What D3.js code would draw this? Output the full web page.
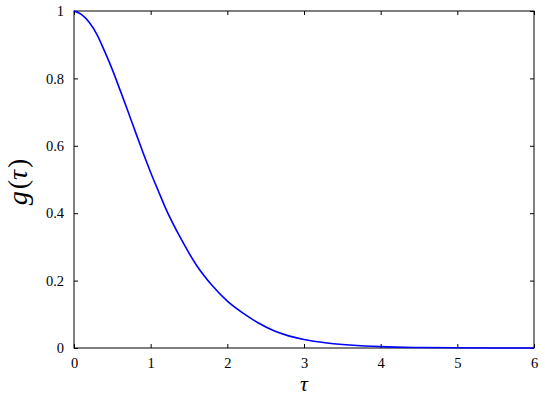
<!DOCTYPE html>
<html>
<head>
<meta charset="utf-8">
<script src="https://cdn.jsdelivr.net/npm/d3@7"></script>
<style>
  html, body { margin: 0; padding: 0; background: #ffffff; }
  svg { display: block; }
</style>
</head>
<body>
<div id="chart"></div>
<script>
// values
const tau_values = [0, 0.1, 0.2, 0.3, 0.4, 0.5, 0.6, 0.7, 0.8, 0.9, 1.0, 1.1, 1.2, 1.4, 1.6, 1.8, 2.0,
                    2.2, 2.4, 2.6, 2.8, 3.0, 3.3, 3.6, 4.0, 4.5, 5.0, 5.5, 6.0];
const g_values = [1.0, 0.989, 0.966, 0.93, 0.88, 0.826, 0.766, 0.705, 0.642, 0.58, 0.521, 0.466,
                  0.412, 0.322, 0.245, 0.186, 0.139, 0.104, 0.075, 0.052, 0.036, 0.025, 0.015,
                  0.009, 0.004, 0.0015, 0.0006, 0.0002, 0.0001];
const x_ticks = [0, 1, 2, 3, 4, 5, 6];
const y_ticks = [0, 0.2, 0.4, 0.6, 0.8, 1];

const serif = "'Times New Roman', 'Liberation Serif', serif";

const margin = {top: 11, right: 11, bottom: 61, left: 74},
      width = 545 - margin.left - margin.right,
      height = 409 - margin.top - margin.bottom;

const svg = d3.select("#chart")
  .append("svg")
    .attr("width", 545)
    .attr("height", 409);

const inner = svg.append("g")
  .attr("transform", "translate(" + margin.left + "," + margin.top + ")");

const x = d3.scaleLinear().domain([0, 6]).range([0, width]);
const y = d3.scaleLinear().domain([0, 1]).range([height, 0]);

// frame
inner.append("rect")
  .attr("x", 0).attr("y", 0)
  .attr("width", width).attr("height", height)
  .attr("fill", "none")
  .attr("stroke", "#000")
  .attr("stroke-width", 1);

// bottom / left axes with inward ticks
const X_AXIS = inner.append("g")
  .attr("transform", "translate(0," + height + ")")
  .call(d3.axisBottom(x).tickValues(x_ticks).tickFormat(d3.format("d"))
        .tickSizeInner(-4).tickSizeOuter(0).tickPadding(10));

const Y_AXIS = inner.append("g")
  .call(d3.axisLeft(y).tickValues(y_ticks).tickFormat(d => d === 0 || d === 1 ? d : d.toFixed(1))
        .tickSizeInner(-4).tickSizeOuter(0).tickPadding(10));

// mirrored ticks on top / right
inner.append("g")
  .call(d3.axisTop(x).tickValues(x_ticks).tickFormat("").tickSizeInner(-4).tickSizeOuter(0));

inner.append("g")
  .attr("transform", "translate(" + width + ",0)")
  .call(d3.axisRight(y).tickValues(y_ticks).tickFormat("").tickSizeInner(-4).tickSizeOuter(0));

inner.selectAll(".domain").remove();
inner.selectAll(".tick line").attr("stroke", "#000");

[X_AXIS, Y_AXIS].forEach(a => {
  a.attr("font-family", serif).attr("font-size", 14.5);
  a.selectAll("text")
    .style("font-family", serif)
    .style("font-size", "14.5px")
    .attr("fill", "#000");
});

// curve
const points = tau_values.map((t, i) => ({t: t, g: g_values[i]}));
inner.append("path")
  .datum(points)
  .attr("fill", "none")
  .attr("stroke", "#0000ff")
  .attr("stroke-width", 1.6)
  .attr("d", d3.line()
    .x(d => x(d.t))
    .y(d => y(d.g))
    .curve(d3.curveMonotoneX));

// axis labels
svg.append("text")
  .attr("x", margin.left + width / 2)
  .attr("y", 391)
  .attr("text-anchor", "middle")
  .style("font-family", serif)
  .style("font-style", "italic")
  .style("font-size", "22px")
  .text("τ");

const ylab = svg.append("text")
  .attr("transform", "translate(27,182) rotate(-90)")
  .attr("text-anchor", "middle")
  .style("font-family", serif)
  .style("font-size", "28px");
ylab.append("tspan").style("font-style", "italic").text("g");
ylab.append("tspan").attr("dx", 2).text("(");
ylab.append("tspan").style("font-style", "italic").text("τ");
ylab.append("tspan").attr("dx", 2).text(")");
</script>
</body>
</html>
